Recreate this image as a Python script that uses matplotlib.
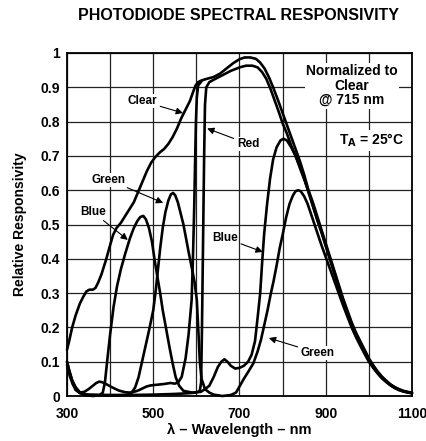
import matplotlib
matplotlib.use("Agg")
import matplotlib.pyplot as plt
import numpy as np

plt.rcParams['font.family'] = ['Liberation Sans', 'DejaVu Sans']

# ---- data ----
clear_nm = [300, 305, 312, 320, 330, 338, 345, 352, 360, 366, 372, 380, 390, 400, 407, 415, 425,
            435, 445, 455, 465, 475, 485, 495, 505, 515, 525, 535, 545, 555, 565, 575, 585, 592,
            598, 604, 612, 625, 640, 655, 670, 685, 700, 712, 725, 738, 748, 758, 768, 778, 790,
            800, 810, 820, 830, 840, 850, 860, 870, 880, 890, 900, 910, 920, 930, 940, 950, 960,
            970, 980, 990, 1000, 1010, 1020, 1030, 1040, 1050, 1060, 1070, 1080, 1090, 1100]
clear_val = [0.135, 0.16, 0.20, 0.235, 0.27, 0.29, 0.305, 0.31, 0.31, 0.315, 0.33, 0.355, 0.395,
             0.44, 0.47, 0.49, 0.505, 0.525, 0.545, 0.565, 0.595, 0.625, 0.655, 0.68, 0.697, 0.71,
             0.72, 0.735, 0.755, 0.78, 0.81, 0.835, 0.86, 0.885, 0.905, 0.915, 0.92, 0.925, 0.93,
             0.94, 0.955, 0.97, 0.982, 0.987, 0.987, 0.983, 0.972, 0.955, 0.93, 0.90, 0.86, 0.825,
             0.79, 0.755, 0.72, 0.685, 0.645, 0.60, 0.565, 0.525, 0.485, 0.445, 0.405, 0.365,
             0.325, 0.285, 0.25, 0.215, 0.185, 0.16, 0.135, 0.11, 0.09, 0.072, 0.057, 0.045,
             0.034, 0.026, 0.02, 0.015, 0.012, 0.01]

# Red: low in the visible, steep edge near 615 nm (the one the "Red" arrow marks)
red_nm = [300, 306, 313, 320, 330, 350, 400, 450, 500, 550, 580, 600, 608, 611, 613, 616, 618,
          620, 623, 630, 640, 660, 680, 700, 715, 730, 742, 752, 762, 772, 782, 792, 800,
          810, 820, 830, 840, 850, 860, 870, 880, 890, 900, 910, 920, 930, 940, 950, 960, 970,
          980, 990, 1000, 1010, 1020, 1030, 1040, 1050, 1060, 1070, 1080, 1090, 1100]
red_val = [0.09, 0.06, 0.035, 0.018, 0.008, 0.004, 0.003, 0.003, 0.004, 0.006, 0.008, 0.01,
           0.015, 0.04, 0.20, 0.50, 0.70, 0.85, 0.90, 0.915, 0.922, 0.935, 0.948, 0.958, 0.963,
           0.963, 0.958, 0.945, 0.925, 0.895, 0.86, 0.825, 0.795, 0.765, 0.73, 0.70, 0.67, 0.635,
           0.595, 0.555, 0.515, 0.48, 0.44, 0.40, 0.36, 0.32, 0.28, 0.245, 0.21, 0.18, 0.155,
           0.13, 0.105, 0.087, 0.07, 0.055, 0.043, 0.033, 0.025, 0.019, 0.014, 0.011, 0.009]

# second (unlabeled) red-edge trace: UV bump, low plateau, edge near 595 nm into the Clear top
edge_nm = [320, 330, 340, 350, 360, 368, 375, 382, 392, 405, 420, 435, 445, 455, 465, 475, 485,
           495, 510, 525, 540, 550, 558, 566, 575, 582, 589, 592, 595, 597, 599, 601, 604, 612]
edge_val = [0.018, 0.01, 0.012, 0.02, 0.03, 0.038, 0.042, 0.04, 0.034, 0.025, 0.016, 0.011, 0.01,
            0.012, 0.016, 0.022, 0.028, 0.031, 0.033, 0.035, 0.038, 0.036, 0.04, 0.056, 0.11,
            0.18, 0.28, 0.40, 0.55, 0.68, 0.80, 0.87, 0.905, 0.918]

blue_nm = [300, 305, 312, 320, 330, 340, 360, 375, 383, 388, 393, 400, 408, 416, 425, 435, 446,
           455, 463, 470, 477, 483, 490, 497, 504, 510, 516, 522, 530, 538, 545, 552, 560, 570,
           590, 610, 620, 630, 640, 650, 658, 665, 672, 680, 690, 700, 710, 720, 728, 736, 743,
           748, 752, 757, 764, 771, 778, 786, 795, 802, 810, 820, 830, 840, 850, 860, 870, 880,
           890, 900, 910, 920, 930, 940, 950, 960, 970, 980, 990, 1000, 1010, 1020, 1030, 1040,
           1050, 1060, 1070, 1080, 1090, 1100]
blue_val = [0.10, 0.075, 0.045, 0.025, 0.01, 0.003, 0.0, 0.002, 0.01, 0.04, 0.10, 0.18, 0.26,
            0.32, 0.37, 0.415, 0.46, 0.49, 0.51, 0.522, 0.525, 0.515, 0.49, 0.45, 0.39, 0.345,
            0.30, 0.25, 0.195, 0.14, 0.095, 0.055, 0.03, 0.015, 0.01, 0.012, 0.02, 0.03, 0.055,
            0.085, 0.10, 0.107, 0.10, 0.088, 0.08, 0.082, 0.088, 0.10, 0.12, 0.16, 0.24, 0.30,
            0.38, 0.47, 0.56, 0.635, 0.69, 0.725, 0.745, 0.75, 0.745, 0.725, 0.70, 0.665, 0.632,
            0.595, 0.555, 0.515, 0.477, 0.437, 0.397, 0.357, 0.317, 0.278, 0.243, 0.208, 0.178,
            0.152, 0.127, 0.103, 0.085, 0.068, 0.053, 0.042, 0.032, 0.024, 0.018, 0.014, 0.011,
            0.008]

green_nm = [300, 305, 312, 320, 330, 345, 400, 440, 450, 458, 466, 474, 482, 490, 500, 506, 511,
            516, 522, 528, 535, 541, 546, 551, 557, 564, 570, 576, 582, 590, 596, 601, 605, 608,
            612, 620, 630, 640, 660, 680, 692, 701, 710, 720, 732, 742, 750, 758, 765, 772, 779,
            786, 793, 800, 808, 816, 824, 830, 836, 842, 850, 858, 866, 874, 882, 890, 900, 910,
            920, 930, 940, 950, 960, 970, 980, 990, 1000, 1010, 1020, 1030, 1040, 1050, 1060,
            1070, 1080, 1090, 1100]
green_val = [0.10, 0.075, 0.045, 0.025, 0.01, 0.003, 0.001, 0.003, 0.01, 0.025, 0.055, 0.10,
             0.145, 0.19, 0.25, 0.31, 0.37, 0.43, 0.49, 0.535, 0.57, 0.588, 0.592, 0.585, 0.565,
             0.53, 0.50, 0.46, 0.42, 0.37, 0.33, 0.28, 0.18, 0.10, 0.05, 0.02, 0.01, 0.004, 0.0,
             0.003, 0.01, 0.03, 0.05, 0.07, 0.095, 0.13, 0.165, 0.21, 0.25, 0.295, 0.335, 0.38,
             0.43, 0.47, 0.52, 0.56, 0.585, 0.597, 0.60, 0.597, 0.582, 0.56, 0.53, 0.50, 0.47,
             0.44, 0.405, 0.37, 0.335, 0.30, 0.265, 0.232, 0.20, 0.172, 0.147, 0.123, 0.10,
             0.082, 0.066, 0.052, 0.041, 0.031, 0.023, 0.017, 0.013, 0.01, 0.008]

x_ticks = [300, 500, 700, 900, 1100]
y_ticks = [0, 0.1, 0.2, 0.3, 0.4, 0.5, 0.6, 0.7, 0.8, 0.9, 1]
y_tick_labels = ["0", "0.1", "0.2", "0.3", "0.4", "0.5", "0.6", "0.7", "0.8", "0.9", "1"]

# ---- figure ----
fig = plt.figure(figsize=(4.27, 4.41), dpi=100)
ax = fig.add_axes([67/427, 45/441, 345/427, 343/441])

series = [(clear_nm, clear_val), (red_nm, red_val), (edge_nm, edge_val),
          (blue_nm, blue_val), (green_nm, green_val)]
for xs, ys in series:
    ax.plot(xs, ys, color='black', lw=1.9, solid_joinstyle='round', solid_capstyle='round',
            zorder=3, clip_on=False)

ax.set_xlim(300, 1100)
ax.set_ylim(0, 1)
ax.set_xticks(x_ticks)
ax.set_xticks(np.arange(300, 1101, 100), minor=True)
ax.set_yticks(y_ticks)
ax.set_yticklabels(y_tick_labels)
ax.grid(True, which='both', color='#222222', lw=0.9, zorder=0)
ax.set_axisbelow(True)
ax.tick_params(which='both', length=0, labelsize=10)
ax.tick_params(axis='x', pad=8)
ax.tick_params(axis='y', pad=5)
for lbl in ax.get_xticklabels() + ax.get_yticklabels():
    lbl.set_fontweight('bold')
for s in ax.spines.values():
    s.set_linewidth(1.3)
    s.set_color('black')

fig.text(239/427, 1 - 16/441, "PHOTODIODE SPECTRAL RESPONSIVITY", ha='center', va='center',
         fontsize=11.5, fontweight='bold')
ax.set_xlabel("λ – Wavelength – nm", fontsize=10.5, fontweight='bold', labelpad=1)
ax.set_ylabel("Relative Responsivity", fontsize=10, fontweight='bold', labelpad=10)

bb = dict(facecolor='white', edgecolor='none', pad=1.0)
ax.text(961, 0.905, "Normalized to\nClear\n@ 715 nm", ha='center', va='center', fontsize=10,
        fontweight='bold', linespacing=1.05, bbox=bb, zorder=4)
ax.text(1007, 0.745, r"T$_\mathbf{A}$ = 25°C", ha='center', va='center', fontsize=10,
        fontweight='bold', bbox=bb, zorder=4)

arrow = dict(arrowstyle='-|>', color='black', lw=0.8, mutation_scale=10, shrinkA=2, shrinkB=0)
labels = [("Clear", 474, 0.860, 569, 0.825),
          ("Red", 720, 0.735, 625, 0.78),
          ("Green", 397, 0.63, 523, 0.563),
          ("Blue", 360, 0.536, 441, 0.455),
          ("Blue", 666, 0.461, 754, 0.42),
          ("Green", 882, 0.125, 768, 0.169)]
for t, tx, ty, ax_, ay_ in labels:
    ax.annotate(t, xy=(ax_, ay_), xytext=(tx, ty), fontsize=8.5, fontweight='bold',
                ha='center', va='center', arrowprops=arrow, zorder=5,
                bbox=dict(facecolor='white', edgecolor='none', pad=0.5))

fig.savefig("out.png", dpi=100)
